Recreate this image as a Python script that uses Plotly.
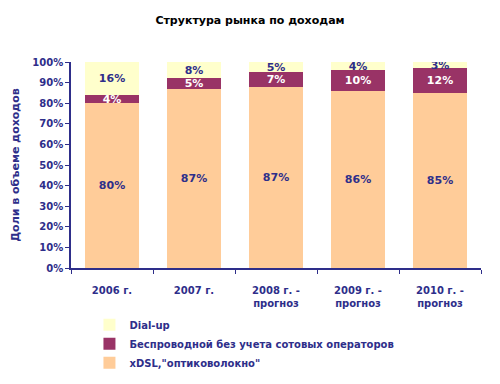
import plotly.graph_objects as go

categories = ["2006 г.", "2007 г.", "2008 г. -<br>прогноз", "2009 г. -<br>прогноз", "2010 г. -<br>прогноз"]
xdsl = [80, 87, 87, 86, 85]
wireless = [4, 5, 7, 10, 12]
dialup = [16, 8, 5, 4, 3]

names = ["xDSL,\"оптиковолокно\"", "Беспроводной без учета сотовых операторов", "Dial-up"]
colors = ["#FFCC99", "#993366", "#FFFFCC"]
text_colors = ["#2E2E8A", "#FFFFFF", "#2E2E8A"]
NAVY = "#2E2E8A"
FONT = "DejaVu Sans"

fig = go.Figure()
for vals, name, col, tcol in zip([xdsl, wireless, dialup], names, colors, text_colors):
    fig.add_trace(go.Bar(
        x=categories, y=vals, name=name,
        marker=dict(color=col, line=dict(width=0)),
        text=[f"{v}%" for v in vals],
        textposition="inside", insidetextanchor="middle",
        textfont=dict(color=tcol, size=11, family=FONT, weight="bold"),
        constraintext="none",
    ))

fig.update_layout(
    barmode="stack", barnorm="percent", bargap=0.34,
    width=500, height=384,
    margin=dict(l=71, r=19, t=62, b=116, autoexpand=False),
    paper_bgcolor="white", plot_bgcolor="white",
    font=dict(family=FONT, color=NAVY, size=10),
    uniformtext=dict(minsize=11, mode="show"),
    title=dict(text="Структура рынка по доходам", x=0.5, xanchor="center",
               y=0.948, yanchor="middle",
               font=dict(size=11, color="black", family=FONT, weight="bold")),
    legend=dict(traceorder="reversed", orientation="v", x=0.045, xanchor="left",
                y=-0.205, yanchor="top",
                font=dict(size=10, color=NAVY, family=FONT, weight="bold"),
                itemwidth=30, tracegroupgap=0, bgcolor="rgba(0,0,0,0)"),
    showlegend=True,
)
fig.update_xaxes(showline=True, linecolor=NAVY, linewidth=1.5, ticks="outside",
                 tickson="boundaries", ticklen=4, tickcolor=NAVY, automargin=False,
                 ticklabelstandoff=12,
                 tickfont=dict(size=10, color=NAVY, family=FONT, weight="bold"), showgrid=False)
fig.update_yaxes(range=[0, 100], dtick=10, ticksuffix="%", showline=True, linecolor=NAVY,
                 linewidth=1.5, ticks="outside", ticklen=4, tickcolor=NAVY, showgrid=False,
                 automargin=False,
                 tickfont=dict(size=10, color=NAVY, family=FONT, weight="bold"),
                 title=dict(text="Доли в объеме доходов",
                            font=dict(size=11, color=NAVY, family=FONT, weight="bold"),
                            standoff=10))

fig.write_html("out.html", config={"displayModeBar": False},
               post_script="document.body.style.margin='0';")
